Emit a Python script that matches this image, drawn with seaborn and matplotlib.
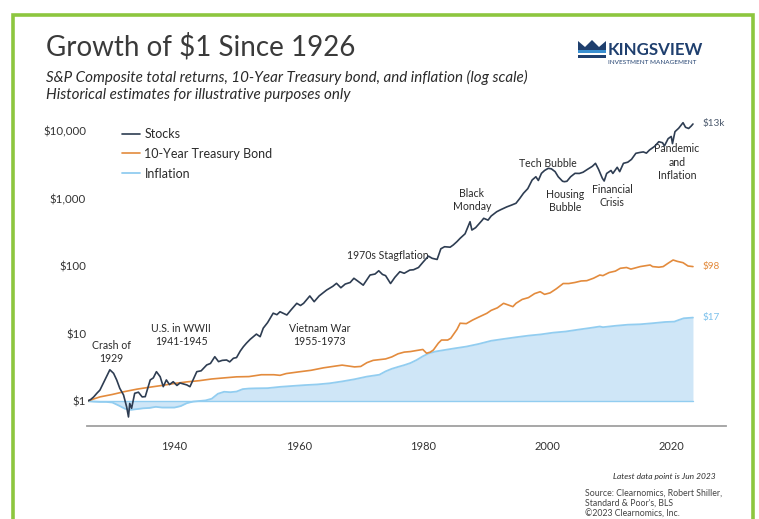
import matplotlib
matplotlib.use("Agg")
import matplotlib.pyplot as plt
import seaborn as sns
import pandas as pd
from matplotlib.patches import Rectangle, Polygon

# ---------------- data ----------------
stock_years = [1926.0, 1926.5, 1927.0, 1927.5, 1928.0, 1928.8, 1929.6, 1930.2, 1930.7, 1931.2,
               1931.8, 1932.3, 1932.6, 1932.8, 1933.1, 1933.6, 1934.2, 1934.8, 1935.3, 1936.1,
               1936.6, 1937.1, 1937.7, 1938.2, 1938.7, 1939.2, 1939.8, 1940.4, 1940.9, 1941.5,
               1942.0, 1942.5, 1943.0, 1943.6, 1944.3, 1945.2, 1945.8, 1946.5, 1947.1, 1947.7,
               1948.4, 1948.9, 1949.5, 1950.0, 1950.6, 1951.1, 1951.6, 1952.2, 1952.7, 1953.2,
               1953.8, 1954.3, 1955.0, 1955.9, 1956.5, 1957.0, 1957.5, 1958.1, 1958.8, 1959.7,
               1960.3, 1960.8, 1961.8, 1962.5, 1963.3, 1964.5, 1965.5, 1966.1, 1966.8, 1967.5,
               1968.3, 1968.9, 1969.5, 1970.4, 1971.0, 1971.5, 1972.3, 1972.9, 1973.5, 1974.0,
               1974.8, 1975.5, 1976.3, 1977.0, 1977.9, 1978.5, 1979.3, 1980.1, 1980.9, 1981.5,
               1982.3, 1982.9, 1983.5, 1984.4, 1984.9, 1985.5, 1986.0, 1986.8, 1987.6, 1987.9,
               1988.5, 1989.5, 1989.8, 1990.5, 1991.0, 1991.9, 1992.5, 1993.5, 1994.3, 1995.0,
               1995.6, 1996.2, 1996.9, 1997.6, 1998.2, 1998.6, 1999.1, 1999.6, 2000.2, 2000.7,
               2001.3, 2001.8, 2002.5, 2002.8, 2003.2, 2003.8, 2004.5, 2005.2, 2005.8, 2006.5,
               2007.3, 2007.8, 2008.3, 2008.9, 2009.2, 2009.6, 2010.3, 2010.6, 2011.3, 2011.7,
               2012.3, 2013.0, 2013.6, 2014.3, 2014.9, 2015.5, 2016.0, 2016.5, 2017.3, 2018.0,
               2018.6, 2018.9, 2019.5, 2020.0, 2020.2, 2020.6, 2021.2, 2021.9, 2022.3, 2022.8,
               2023.2, 2023.5]
stock_values = [1.00, 1.05, 1.15, 1.30, 1.45, 2.05, 2.90, 2.57, 2.05, 1.54,
                1.23, 0.82, 0.58, 0.92, 0.78, 1.30, 1.35, 1.15, 1.16, 2.05,
                2.20, 2.72, 2.29, 1.63, 2.05, 1.75, 1.93, 1.70, 1.85, 1.78,
                1.73, 1.63, 2.05, 2.72, 2.80, 3.42, 3.60, 4.53, 3.83, 4.00,
                4.05, 3.80, 4.30, 4.40, 5.50, 6.37, 7.20, 8.20, 8.97, 9.80,
                8.97, 12.0, 14.5, 20.0, 19.0, 21.0, 20.0, 18.8, 22.5, 28.0,
                26.0, 28.0, 36.0, 29.6, 36.0, 44.0, 50.0, 55.4, 47.6, 54.0,
                57.0, 65.8, 60.0, 52.0, 63.0, 73.5, 76.0, 85.0, 75.0, 72.0,
                55.0, 68.0, 82.4, 78.0, 87.0, 88.0, 95.0, 116, 140, 130,
                125, 180, 193, 190, 205, 230, 257, 300, 453, 341,
                370, 470, 509, 478, 550, 637, 680, 750, 800, 850,
                1000, 1195, 1400, 1880, 2100, 1850, 2360, 2600, 2800, 2750,
                2500, 2100, 1800, 1775, 1800, 2100, 2360, 2350, 2450, 2700,
                3000, 3320, 2700, 2000, 1816, 2350, 2600, 2350, 2900, 2500,
                3320, 3450, 3800, 4670, 4800, 4900, 4700, 5230, 5900, 6940,
                6700, 6000, 7700, 8300, 6500, 9770, 11000, 13280, 11350, 10900,
                11800, 12700]

bond_years = [1926, 1928, 1930, 1932, 1934, 1936, 1938, 1940, 1942, 1944, 1946, 1948, 1950,
              1952, 1954, 1956, 1957, 1958, 1960, 1962, 1964, 1966, 1967, 1968, 1969, 1970,
              1971, 1972, 1973, 1974, 1975, 1976, 1977, 1978, 1979, 1980, 1980.6, 1981.2,
              1981.7, 1982.5, 1983, 1984, 1984.5, 1985.5, 1986, 1987, 1988, 1989, 1990.3,
              1991, 1992, 1993, 1994.5, 1995, 1996, 1997, 1998, 1998.9, 1999.6, 2000.5,
              2001.5, 2002.6, 2003.5, 2004.5, 2005.5, 2006.4, 2007.5, 2008.5, 2009, 2010,
              2011, 2011.8, 2012.8, 2013.5, 2014, 2015, 2016.6, 2017, 2018, 2018.7, 2019.5,
              2020.3, 2021, 2021.9, 2022.7, 2023.5]
bond_values = [1.00, 1.15, 1.25, 1.38, 1.50, 1.60, 1.70, 1.82, 1.92, 2.00, 2.12, 2.20, 2.28,
               2.30, 2.45, 2.45, 2.40, 2.55, 2.70, 2.85, 3.10, 3.30, 3.40, 3.30, 3.20, 3.25,
               3.70, 4.00, 4.10, 4.20, 4.50, 5.00, 5.30, 5.40, 5.60, 5.80, 5.10, 5.30,
               5.70, 7.20, 8.00, 8.00, 8.50, 11.5, 14.2, 14.0, 15.8, 17.5, 19.9,
               22.0, 24.0, 28.0, 25.0, 28.0, 32.0, 34.0, 39.0, 41.6, 38.0, 40.0,
               46.0, 55.0, 55.0, 57.0, 60.0, 60.6, 66.0, 73.5, 72.0, 80.0,
               84.0, 92.5, 95.0, 90.0, 92.5, 98.0, 103.5, 98.0, 96.0, 98.0, 110,
               122.7, 117, 112, 100, 98]

infl_years = [1926, 1927, 1928, 1929, 1930, 1931, 1932, 1933, 1934, 1935, 1936, 1937, 1938,
              1939, 1940, 1941, 1942, 1943, 1944, 1945, 1946, 1947, 1948, 1949, 1950, 1951,
              1952, 1953, 1955, 1957, 1959, 1961, 1963, 1965, 1967, 1969, 1971, 1973, 1974,
              1975, 1976, 1977, 1978, 1979, 1980, 1981, 1982, 1983, 1985, 1987, 1989, 1991,
              1993, 1995, 1997, 1999, 2001, 2003, 2005, 2007, 2008.5, 2009, 2011, 2013,
              2015, 2017, 2019, 2020.5, 2021, 2022, 2023.5]
infl_values = [1.00, 0.98, 0.97, 0.97, 0.95, 0.86, 0.77, 0.74, 0.76, 0.78, 0.79, 0.82, 0.80,
               0.80, 0.80, 0.84, 0.93, 0.98, 1.00, 1.02, 1.08, 1.28, 1.37, 1.35, 1.38, 1.50,
               1.53, 1.54, 1.55, 1.62, 1.67, 1.72, 1.76, 1.83, 1.95, 2.10, 2.30, 2.45, 2.75,
               3.00, 3.20, 3.40, 3.65, 4.05, 4.60, 5.10, 5.40, 5.60, 6.00, 6.40, 7.00, 7.80,
               8.30, 8.80, 9.30, 9.70, 10.3, 10.7, 11.4, 12.1, 12.7, 12.4, 13.0, 13.5,
               13.7, 14.2, 14.8, 15.0, 15.6, 16.8, 17.2]

series_names = ["Stocks", "10-Year Treasury Bond", "Inflation"]
end_labels = ["$13k", "$98", "$17"]
ytick_vals = [1, 10, 100, 1000, 10000]
ytick_labels = ["$1", "$10", "$100", "$1,000", "$10,000"]
xtick_vals = [1940, 1960, 1980, 2000, 2020]

events = ["Crash of\n1929", "U.S. in WWII\n1941-1945", "Vietnam War\n1955-1973",
          "1970s Stagflation", "Black\nMonday", "Tech Bubble", "Housing\nBubble",
          "Financial\nCrisis", "Pandemic\nand\nInflation"]
event_pos = [(1929.8, 5.3), (1941.1, 9.5), (1963.4, 9.5), (1974.3, 145), (1987.9, 950),
             (2000.2, 3350), (2002.9, 920), (2010.5, 1090), (2020.9, 3470)]

# ---------------- styling ----------------
sns.set_style("white")
plt.rcParams["font.family"] = ["Lato", "DejaVu Sans"]

C_STOCK = "#2e3d52"
C_BOND = "#e38b3d"
C_INFL = "#92cdf0"
C_FILL = "#cfe6f7"
TXT = "#2a2a2a"

W, H = 759, 519
fig = plt.figure(figsize=(W / 100, H / 100), dpi=100)
fig.patch.set_facecolor("white")

def fx(px):
    return px / W

def fy(py):
    return 1 - py / H

# green frame
fig.add_artist(Rectangle((fx(13), fy(560)), fx(740), (560 - 15) / H,
                         transform=fig.transFigure, fill=False, edgecolor="#8dc63f",
                         linewidth=2.6))

# axes: 1926 at x=87.5, 6.21 px per year; $1 at y=401, 67.5 px per decade
x0, x1 = 87.5, 726
y_top, y_bot = 110, 426
ax = fig.add_axes([fx(x0), fy(y_bot), (x1 - x0) / W, (y_bot - y_top) / H])
ax.set_xlim(1926, 1926 + (x1 - x0) / 6.21)
ax.set_yscale("log")
ax.set_ylim(10 ** (-(y_bot - 401) / 67.5), 10 ** ((401 - y_top) / 67.5))

df_s = pd.DataFrame({"year": stock_years, "value": stock_values})
df_b = pd.DataFrame({"year": bond_years, "value": bond_values})
df_i = pd.DataFrame({"year": infl_years, "value": infl_values})

ax.fill_between(df_i["year"], df_i["value"], 1, color=C_FILL, linewidth=0, zorder=1)
ax.plot([infl_years[0], infl_years[-1]], [1, 1], color=C_INFL, lw=1.0, zorder=2)
sns.lineplot(data=df_i, x="year", y="value", ax=ax, color=C_INFL, lw=1.3,
             label=series_names[2], zorder=3)
sns.lineplot(data=df_b, x="year", y="value", ax=ax, color=C_BOND, lw=1.2,
             label=series_names[1], zorder=4)
sns.lineplot(data=df_s, x="year", y="value", ax=ax, color=C_STOCK, lw=1.2,
             label=series_names[0], zorder=5)

# legend in the order Stocks, Bond, Inflation
handles, labels = ax.get_legend_handles_labels()
order = [labels.index(n) for n in series_names]
if ax.get_legend():
    ax.get_legend().remove()
leg = fig.legend([handles[i] for i in order], [labels[i] for i in order],
                 loc="upper left", bbox_to_anchor=(fx(122), fy(128)),
                 frameon=False, fontsize=9, handlelength=1.45, handletextpad=0.35,
                 labelspacing=0.62, borderaxespad=0, borderpad=0)
for t in leg.get_texts():
    t.set_color(TXT)

# axis styling
for s in ["left", "right", "top"]:
    ax.spines[s].set_visible(False)
ax.spines["bottom"].set_color("#a0a0a0")
ax.spines["bottom"].set_linewidth(1.3)
ax.set_yticks(ytick_vals)
ax.set_yticklabels(ytick_labels)
ax.yaxis.set_minor_locator(matplotlib.ticker.NullLocator())
ax.set_xticks(xtick_vals)
ax.set_xticklabels([str(v) for v in xtick_vals])
ax.tick_params(axis="y", length=0, pad=1, labelsize=8.3, labelcolor="#333333")
ax.tick_params(axis="x", length=0, pad=11, labelsize=8, labelcolor="#333333")
ax.set_xlabel("")
ax.set_ylabel("")
ax.grid(False)

# event annotations
for txt, (ex, ey) in zip(events, event_pos):
    ax.text(ex, ey, txt, ha="center", va="center", fontsize=7.6, color=TXT,
            linespacing=1.25)

# end labels
end_vals = [stock_values[-1], bond_values[-1], infl_values[-1]]
end_cols = ["#4d5b6e", C_BOND, "#7cc1ec"]
for lab, v, c in zip(end_labels, end_vals, end_cols):
    ax.text(2025.1, v, lab, ha="left", va="center", fontsize=7.2, color=c)

# titles
fig.text(fx(46), fy(47), "Growth of $1 Since 1926", fontsize=20, fontweight="normal",
         color="#3a3a3a", va="center", ha="left")
fig.text(fx(46), fy(77), "S&P Composite total returns, 10-Year Treasury bond, and inflation (log scale)",
         fontsize=10.9, style="italic", color=TXT, va="center", ha="left")
fig.text(fx(46), fy(95), "Historical estimates for illustrative purposes only",
         fontsize=10.9, style="italic", color=TXT, va="center", ha="left")

# logo
crown = [(578, 41), (585, 47), (592, 40), (599, 47), (606, 41), (606, 53), (578, 53)]
fig.add_artist(Polygon([(fx(a), fy(b)) for a, b in crown], closed=True,
                       transform=fig.transFigure, facecolor="#1f3f6e", edgecolor="none"))
band = [(578, 50), (606, 50), (606, 53), (578, 53)]
fig.add_artist(Polygon([(fx(a), fy(b)) for a, b in band], closed=True,
                       transform=fig.transFigure, facecolor="#3a8fd0", edgecolor="none"))
base = [(578, 55), (606, 55), (606, 58), (578, 58)]
fig.add_artist(Polygon([(fx(a), fy(b)) for a, b in base], closed=True,
                       transform=fig.transFigure, facecolor="#1f3f6e", edgecolor="none"))
fig.text(fx(608), fy(50), "KINGSVIEW", fontsize=12.2, fontweight="bold", color="#1f3f6e",
         va="center", ha="left")
fig.text(fx(608), fy(62), "INVESTMENT MANAGEMENT", fontsize=4.6, color="#1f3f6e",
         va="center", ha="left")

# footer
fig.text(fx(613), fy(477), "Latest data point is Jun 2023", fontsize=6.0, style="italic",
         color=TXT, va="center", ha="left")
fig.text(fx(585), fy(489), "Source: Clearnomics, Robert Shiller,\nStandard & Poor's, BLS\n\u00a92023 Clearnomics, Inc.",
         fontsize=6.3, color="#444444", va="top", ha="left", linespacing=1.15)

fig.savefig("out.png", dpi=100, facecolor="white")
